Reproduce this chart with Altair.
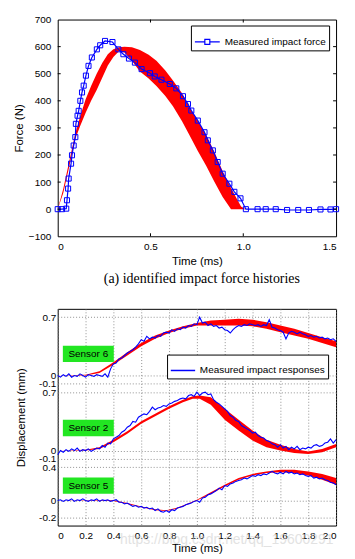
import altair as alt
import pandas as pd

# ---------------- (a) impact force ----------------
force_time = [0, 0.023, 0.046, 0.050, 0.056, 0.059, 0.072, 0.077, 0.086, 0.095, 0.098, 0.107,
              0.113, 0.122, 0.131, 0.140, 0.152, 0.166, 0.184, 0.211, 0.229, 0.255, 0.295,
              0.327, 0.354, 0.384, 0.416, 0.452, 0.497, 0.523, 0.559, 0.604, 0.639, 0.675,
              0.702, 0.720, 0.755, 0.791, 0.809, 0.836, 0.862, 0.889, 0.925, 0.952, 0.985,
              1.014, 1.077, 1.121, 1.175, 1.236, 1.296, 1.354, 1.416, 1.470, 1.500]
force_val = [0, 0, 2, 33, 76, 113, 168, 199, 235, 266, 315, 345,
             363, 400, 431, 456, 493, 529, 560, 590, 605, 621, 617,
             590, 572, 556, 541, 517, 502, 490, 478, 462, 446, 417,
             388, 364, 327, 284, 254, 217, 174, 131, 94, 64, 40,
             0, 0, 0, 0, -3, -3, -3, -1, -1, 0]

band_time = [0.000, 0.030, 0.060, 0.095, 0.120, 0.150, 0.180, 0.210, 0.240, 0.270, 0.300,
             0.330, 0.360, 0.400, 0.443, 0.490, 0.532, 0.580, 0.621, 0.670, 0.711, 0.755,
             0.800, 0.845, 0.889, 0.934, 0.960, 0.988, 1.012]
band_low = [0, 60, 150, 260, 305, 355, 400, 440, 485, 530, 562,
            583, 578, 548, 508, 482, 455, 418, 380, 325, 272, 215,
            160, 100, 45, 0, 0, 0, 0]
band_high = [0, 75, 170, 280, 340, 405, 455, 500, 540, 572, 590,
             598, 600, 598, 588, 570, 548, 512, 475, 428, 375, 325,
             275, 210, 140, 78, 45, 10, 0]

force_x_ticks = [0, 0.5, 1.0, 1.5]
force_y_ticks = [-100, 0, 100, 200, 300, 400, 500, 600, 700]

# ---------------- (b) displacement responses ----------------
resp_time = [round(i * 0.02, 2) for i in range(101)]

s6_meas = [0.00, -0.02, 0.01, -0.01, 0.02, -0.02, 0.00, -0.01, 0.02, 0.00,
           -0.02, 0.01, 0.00, -0.01, 0.01, 0.00, -0.01, 0.02, -0.02, 0.08,
           0.14, 0.15, 0.20, 0.21, 0.24, 0.27, 0.29, 0.31, 0.34, 0.38,
           0.43, 0.41, 0.47, 0.44, 0.46, 0.45, 0.48, 0.47, 0.51, 0.52,
           0.51, 0.55, 0.53, 0.56, 0.55, 0.58, 0.57, 0.60, 0.59, 0.62,
           0.61, 0.70, 0.63, 0.64, 0.60, 0.62, 0.59, 0.60, 0.57, 0.58,
           0.55, 0.54, 0.51, 0.55, 0.58, 0.60, 0.59, 0.61, 0.60, 0.62,
           0.61, 0.60, 0.61, 0.59, 0.61, 0.60, 0.67, 0.58, 0.57, 0.55,
           0.54, 0.52, 0.44, 0.51, 0.53, 0.52, 0.50, 0.52, 0.50, 0.49,
           0.47, 0.48, 0.46, 0.47, 0.45, 0.46, 0.44, 0.45, 0.43, 0.44,
           0.41]
s2_meas = [-0.05, 0.00, -0.02, 0.01, -0.01, 0.02, 0.00, 0.03, -0.01, 0.01,
           0.00, 0.02, -0.01, 0.01, 0.03, 0.02, 0.06, 0.04, 0.09, 0.08,
           0.14, 0.16, 0.18, 0.22, 0.24, 0.28, 0.30, 0.35, 0.34, 0.40,
           0.42, 0.44, 0.43, 0.47, 0.52, 0.49, 0.51, 0.52, 0.54, 0.53,
           0.56, 0.57, 0.59, 0.60, 0.62, 0.63, 0.62, 0.66, 0.67, 0.65,
           0.70, 0.66, 0.69, 0.70, 0.67, 0.68, 0.61, 0.58, 0.56, 0.53,
           0.50, 0.47, 0.42, 0.40, 0.36, 0.35, 0.30, 0.28, 0.26, 0.24,
           0.21, 0.22, 0.18, 0.16, 0.15, 0.12, 0.11, 0.08, 0.07, 0.04,
           0.07, 0.03, 0.05, 0.01, 0.04, 0.02, 0.05, 0.01, 0.03, 0.02,
           0.04, 0.03, 0.06, 0.07, 0.05, 0.06, 0.09, 0.10, 0.14, 0.09,
           0.13]
s5_meas = [0.00, 0.01, -0.01, 0.01, 0.00, 0.02, -0.01, 0.01, 0.00, 0.02,
           0.00, -0.01, 0.01, 0.00, 0.02, -0.01, 0.01, 0.00, 0.01, -0.01,
           0.00, 0.01, -0.02, -0.02, -0.04, -0.03, -0.05, -0.07, -0.06, -0.08,
           -0.07, -0.09, -0.08, -0.10, -0.09, -0.12, -0.10, -0.13, -0.14, -0.12,
           -0.14, -0.11, -0.12, -0.09, -0.08, -0.07, -0.05, -0.04, -0.03, -0.01,
           0.00, -0.02, 0.03, 0.04, 0.07, 0.08, 0.10, 0.12, 0.15, 0.13,
           0.18, 0.17, 0.20, 0.21, 0.23, 0.24, 0.25, 0.27, 0.26, 0.28,
           0.30, 0.29, 0.31, 0.30, 0.32, 0.31, 0.33, 0.35, 0.33, 0.32,
           0.34, 0.32, 0.35, 0.33, 0.34, 0.32, 0.33, 0.31, 0.32, 0.30,
           0.29, 0.30, 0.27, 0.28, 0.26, 0.27, 0.25, 0.24, 0.22, 0.21,
           0.19]

s6_band_time = [0.0, 0.2, 0.3, 0.4, 0.5, 0.6, 0.7, 0.8, 0.9, 1.0, 1.1, 1.2, 1.3, 1.4, 1.5, 1.6, 1.7, 1.8, 1.9, 2.0]
s6_band_low = [0.0, 0.0, 0.03, 0.13, 0.24, 0.35, 0.44, 0.51, 0.56, 0.60, 0.60, 0.60, 0.60, 0.59, 0.56, 0.52, 0.48, 0.44, 0.39, 0.34]
s6_band_high = [0.0, 0.01, 0.05, 0.16, 0.28, 0.39, 0.48, 0.54, 0.59, 0.63, 0.66, 0.67, 0.68, 0.67, 0.64, 0.60, 0.56, 0.51, 0.46, 0.41]

s2_band_time = [0.0, 0.2, 0.3, 0.4, 0.5, 0.6, 0.7, 0.8, 0.9, 0.97, 1.02, 1.1, 1.2, 1.3, 1.4, 1.5, 1.6, 1.7, 1.8, 1.9, 2.0]
s2_band_low = [0.0, 0.0, 0.02, 0.10, 0.20, 0.32, 0.41, 0.50, 0.58, 0.62, 0.62, 0.55, 0.37, 0.24, 0.12, 0.04, 0.00, -0.03, -0.04, -0.02, 0.04]
s2_band_high = [0.0, 0.01, 0.04, 0.13, 0.23, 0.35, 0.44, 0.53, 0.61, 0.65, 0.66, 0.64, 0.50, 0.37, 0.24, 0.13, 0.07, 0.02, -0.01, 0.02, 0.08]

s5_band_time = [0.0, 0.4, 0.5, 0.6, 0.7, 0.78, 0.85, 0.9, 1.0, 1.1, 1.2, 1.3, 1.4, 1.5, 1.6, 1.7, 1.8, 1.9, 2.0]
s5_band_low = [0.0, -0.005, -0.04, -0.08, -0.115, -0.125, -0.10, -0.07, 0.0, 0.08, 0.17, 0.25, 0.30, 0.33, 0.34, 0.33, 0.30, 0.25, 0.19]
s5_band_high = [0.0, 0.005, -0.03, -0.07, -0.105, -0.115, -0.09, -0.06, 0.01, 0.10, 0.19, 0.27, 0.32, 0.35, 0.37, 0.37, 0.35, 0.32, 0.27]

sensor_names = ["Sensor 6", "Sensor 2", "Sensor 5"]
sensor_offsets = [1.5, 0.6, 0.0]
sensor_label_y = [1.76, 0.87, 0.18]
sensor_label_x = [0.22, 0.22, 0.22]

resp_y_ticks = [-0.2, 0, 0.4, 0.5, 0.6, 1.3, 1.4, 1.5, 2.2]
resp_x_ticks = [0, 0.2, 0.4, 0.6, 0.8, 1.0, 1.2, 1.4, 1.6, 1.8, 2.0]

watermark = "https://blog.csdn.net/qq_19600291"

# ---------------- styles ----------------
FONT = "Liberation Sans"
BLUE = "#0000ff"
RED = "#ff0000"
GREEN = "#22e622"
W, H = 280, 218

X_LABEL = "datum.value == 0 ? '0' : format(datum.value, '.1f')"
Y_LABEL = ("replace(datum.value < 0.45 ? (datum.value == 0 ? '0' : format(datum.value, '.1f')) : "
           "datum.value < 1.35 ? (abs(datum.value - 0.6) < 0.01 ? '0' : format(datum.value - 0.6, '.1f')) : "
           "(abs(datum.value - 1.5) < 0.01 ? '0' : format(datum.value - 1.5, '.1f')), '\u2212', '-')")

# ---------- top panel ----------
force_df = pd.DataFrame({"t": force_time, "y": force_val,
                         "series": ["Measured impact force"] * len(force_time)})
band_df = pd.DataFrame({"t": band_time, "y": band_low, "y2": band_high})

x_top = alt.X("t:Q", scale=alt.Scale(domain=[0, 1.5], nice=False, zero=False),
              axis=alt.Axis(values=force_x_ticks, labelExpr=X_LABEL,
                            title="Time (ms)", grid=False, labelPadding=5, titlePadding=4,
                            labelOverlap=False, labelSeparation=0))
y_top = alt.Y("y:Q", scale=alt.Scale(domain=[-100, 700], nice=False),
              axis=alt.Axis(values=force_y_ticks, format="d",
                            title="Force (N)", grid=False, labelPadding=7, titlePadding=4,
                            labelOverlap=False, labelSeparation=0))

band_top = alt.Chart(band_df).mark_area(color=RED, opacity=1).encode(
    x=x_top, y=y_top, y2="y2:Q")

legend_path = "M-1,0H-0.2M0.2,0H1M-0.2,-0.2H0.2V0.2H-0.2Z"
line_top = alt.Chart(force_df).mark_line(
    strokeWidth=1.2,
    point=alt.OverlayMarkDef(shape="square", filled=False, size=26, strokeWidth=1, color=BLUE)
).encode(
    x=x_top, y=y_top,
    color=alt.Color("series:N", scale=alt.Scale(domain=["Measured impact force"], range=[BLUE]),
                    legend=alt.Legend(title=None, orient="none", legendX=134, legendY=6,
                                      strokeColor="black", fillColor="white", padding=3,
                                      symbolType=legend_path, symbolSize=625, symbolStrokeWidth=1.2,
                                      labelFont=FONT, labelFontSize=10, labelColor="black",
                                      symbolStrokeColor=BLUE, symbolFillColor="transparent")))

xt_df = pd.DataFrame({"t": force_x_ticks[1:-1]})
yt_df = pd.DataFrame({"y": force_y_ticks[1:-1]})
ticks_top = [
    alt.Chart(xt_df).mark_rule(color="black").encode(x=x_top, y=alt.value(H), y2=alt.value(H - 3)),
    alt.Chart(xt_df).mark_rule(color="black").encode(x=x_top, y=alt.value(0), y2=alt.value(3)),
    alt.Chart(yt_df).mark_rule(color="black").encode(y=y_top, x=alt.value(0), x2=alt.value(3)),
    alt.Chart(yt_df).mark_rule(color="black").encode(y=y_top, x=alt.value(W - 3), x2=alt.value(W)),
]

top = alt.layer(band_top, line_top, *ticks_top).properties(
    width=W, height=H,
    title=alt.TitleParams("(a) identified impact force histories", orient="bottom", font="Liberation Serif",
                          fontSize=14, fontWeight="normal", color="black", frame="group", offset=6, dx=5))

# ---------- bottom panel ----------
meas_rows = []
for name, off, series in zip(sensor_names, sensor_offsets, [s6_meas, s2_meas, s5_meas]):
    for t, v in zip(resp_time, series):
        meas_rows.append({"t": t, "y": v + off, "sensor": name, "series": "Measured impact responses"})
meas_df = pd.DataFrame(meas_rows)

band_rows = []
for name, off, bt, bl, bh in zip(sensor_names, sensor_offsets,
                                 [s6_band_time, s2_band_time, s5_band_time],
                                 [s6_band_low, s2_band_low, s5_band_low],
                                 [s6_band_high, s2_band_high, s5_band_high]):
    for t, lo, hi in zip(bt, bl, bh):
        band_rows.append({"t": t, "y": lo + off, "y2": hi + off, "sensor": name})
rband_df = pd.DataFrame(band_rows)

BOX_HW, BOX_HH = 0.183, 0.098
lab_df = pd.DataFrame({"name": sensor_names, "t": sensor_label_x, "y": sensor_label_y})
lab_df["t0"] = lab_df["t"] - BOX_HW
lab_df["t1"] = lab_df["t"] + BOX_HW
lab_df["y0"] = lab_df["y"] - BOX_HH
lab_df["y1"] = lab_df["y"] + BOX_HH

x_axis_bot = alt.Axis(values=resp_x_ticks, labelExpr=X_LABEL,
                      title="Time (ms)", grid=True, gridColor="#777777", gridDash=[1, 2],
                      gridWidth=0.8, labelPadding=5, titlePadding=2,
                      labelOverlap=False, labelSeparation=0)
y_axis_bot = alt.Axis(values=resp_y_ticks, labelExpr=Y_LABEL,
                      title="Displacement (mm)", grid=True, gridColor="#777777", gridDash=[1, 2],
                      gridWidth=0.8, labelPadding=2, titlePadding=12,
                      labelOverlap=False, labelSeparation=0)
x_scale_bot = alt.Scale(domain=[0, 2.0], nice=False, zero=False)
y_scale_bot = alt.Scale(domain=[-0.3, 2.3], nice=False, zero=False)


def xb(field):
    return alt.X(field + ":Q", scale=x_scale_bot, axis=x_axis_bot)


def yb(field):
    return alt.Y(field + ":Q", scale=y_scale_bot, axis=y_axis_bot)


band_bot = alt.Chart(rband_df).mark_area(color=RED, opacity=1).encode(
    x=xb("t"), y=yb("y"), y2="y2:Q", detail="sensor:N")

line_bot = alt.Chart(meas_df).mark_line(strokeWidth=1.1).encode(
    x=xb("t"), y=yb("y"), detail="sensor:N",
    color=alt.Color("series:N", scale=alt.Scale(domain=["Measured impact responses"], range=[BLUE]),
                    legend=alt.Legend(title=None, orient="none", legendX=110, legendY=46,
                                      strokeColor="black", fillColor="white", padding=3,
                                      symbolType="stroke", symbolSize=600, symbolStrokeWidth=1.5,
                                      labelFont=FONT, labelFontSize=10, labelColor="black")))

box_bot = alt.Chart(lab_df).mark_rect(color=GREEN).encode(
    x=xb("t0"), x2="t1:Q", y=yb("y0"), y2="y1:Q")
text_bot = alt.Chart(lab_df).mark_text(font=FONT, fontSize=10, color="black").encode(
    x=xb("t"), y=yb("y"), text="name:N")

wm_df = pd.DataFrame({"txt": [watermark]})
wm = alt.Chart(wm_df).mark_text(font=FONT, fontSize=14, color="#d0d0d0", opacity=0.6).encode(
    x=alt.value(170), y=alt.value(233), text="txt:N")

bottom = alt.layer(band_bot, line_bot, box_bot, text_bot, wm).properties(width=W, height=H)

chart = alt.vconcat(top, bottom, spacing=21).properties(
    padding={"left": 4, "top": 4, "right": 5, "bottom": 0}
).configure_view(stroke="black", strokeWidth=1).configure_axis(
    labelFont=FONT, titleFont=FONT, labelFontSize=10, titleFontSize=11.5,
    titleFontWeight="normal", labelColor="black", titleColor="black",
    domain=False, ticks=False, labelOverlap=False
).resolve_scale(color="independent")

chart.save("out.html", embed_options={"renderer": "svg", "actions": False})
